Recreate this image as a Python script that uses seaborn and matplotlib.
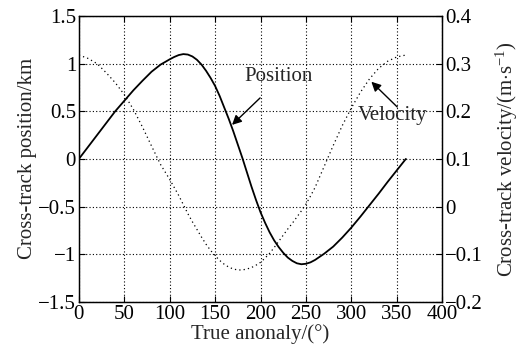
import numpy as np
import pandas as pd
import seaborn as sns
import matplotlib
matplotlib.use('Agg')
import matplotlib.pyplot as plt

# true anomaly (deg)
anomaly = [0, 10, 20, 30, 40, 50, 60, 70, 80, 90, 100, 105, 110, 115, 120, 125, 130, 135,
           140, 145, 150, 155, 160, 165, 170, 175, 180, 185, 190, 195, 200, 205, 210, 215,
           220, 225, 230, 235, 240, 245, 250, 255, 260, 270, 280, 290, 300, 310, 320, 330,
           340, 350, 360]
# cross-track position (km)
position = [0.0, 0.125, 0.25, 0.375, 0.50, 0.61, 0.72, 0.82, 0.915, 0.99, 1.045, 1.07,
            1.09, 1.10, 1.095, 1.075, 1.04, 0.99, 0.925, 0.85, 0.765, 0.66, 0.54, 0.42,
            0.29, 0.15, 0.01, -0.14, -0.29, -0.43, -0.56, -0.67, -0.77, -0.855, -0.925,
            -0.985, -1.035, -1.07, -1.095, -1.105, -1.10, -1.085, -1.06, -0.995, -0.92,
            -0.825, -0.72, -0.605, -0.485, -0.365, -0.24, -0.12, 0.0]
# cross-track velocity (m/s)
velocity = [0.318, 0.311, 0.300, 0.281, 0.260, 0.235, 0.204, 0.167, 0.127, 0.088, 0.057,
            0.040, 0.023, 0.004, -0.015, -0.032, -0.048, -0.064, -0.079, -0.092, -0.103,
            -0.113, -0.121, -0.127, -0.131, -0.133, -0.133, -0.131, -0.128, -0.123, -0.117,
            -0.108, -0.098, -0.086, -0.073, -0.060, -0.047, -0.035, -0.022, -0.009, 0.005,
            0.022, 0.040, 0.084, 0.128, 0.170, 0.207, 0.240, 0.268, 0.290, 0.305, 0.314,
            0.318]

df = pd.DataFrame({'anomaly': anomaly, 'position': position, 'velocity': velocity})

sns.set_style('ticks')
plt.rcParams['font.family'] = ['Liberation Serif', 'DejaVu Serif']
plt.rcParams['mathtext.fontset'] = 'custom'
plt.rcParams['mathtext.rm'] = 'Liberation Serif'
plt.rcParams['mathtext.it'] = 'Liberation Serif:italic'
plt.rcParams['font.size'] = 15
plt.rcParams['xtick.direction'] = 'in'
plt.rcParams['ytick.direction'] = 'in'

fig = plt.figure(figsize=(5.19, 3.47), dpi=100)
ax = fig.add_axes([0.152, 0.130, 0.700, 0.824])
ax2 = ax.twinx()

sns.lineplot(data=df, x='anomaly', y='position', ax=ax, color='black', lw=1.3)
sns.lineplot(data=df, x='anomaly', y='velocity', ax=ax2, color='black', lw=0.9,
             linestyle=(0, (1, 2.5)))

ax.set_xlim(0, 400)
ax.set_ylim(-1.5, 1.5)
ax2.set_ylim(-0.2, 0.4)
ax.set_xticks(np.arange(0, 401, 50))
ax.set_yticks([-1.5, -1, -0.5, 0, 0.5, 1, 1.5])
ax.set_yticklabels(['\u22121.5', '\u22121', '\u22120.5', '0', '0.5', '1', '1.5'])
ax2.set_yticks([-0.2, -0.1, 0, 0.1, 0.2, 0.3, 0.4])
ax2.set_yticklabels(['\u22120.2', '\u22120.1', '0', '0.1', '0.2', '0.3', '0.4'])
ax.grid(True, color='black', linestyle=(0, (1, 2)), lw=0.8)

ax.set_xlabel('True anonaly/(\u00b0)', labelpad=0)
ax.set_ylabel('Cross-track position/km', labelpad=1)
ax2.set_ylabel(r'Cross-track velocity/(m$\cdot$s$^{-1}$)', labelpad=8)

for a in (ax, ax2):
    a.tick_params(length=4, width=0.8, pad=2, colors='black')
    for s in a.spines.values():
        s.set_color('black')
        s.set_linewidth(0.9)
ax.tick_params(top=True)

arrow = dict(arrowstyle='-|>', color='black', lw=1, mutation_scale=14, shrinkA=0, shrinkB=0)
ax.annotate('', xy=(168.6, 0.357), xytext=(199.5, 0.64), arrowprops=arrow)
ax.text(220, 0.86, 'Position', ha='center', va='center')
ax2.annotate('', xy=(322, 0.262), xytext=(350.5, 0.209), arrowprops=arrow)
ax2.text(345, 0.192, 'Velocity', ha='center', va='center')

fig.savefig('out.png', dpi=100)
